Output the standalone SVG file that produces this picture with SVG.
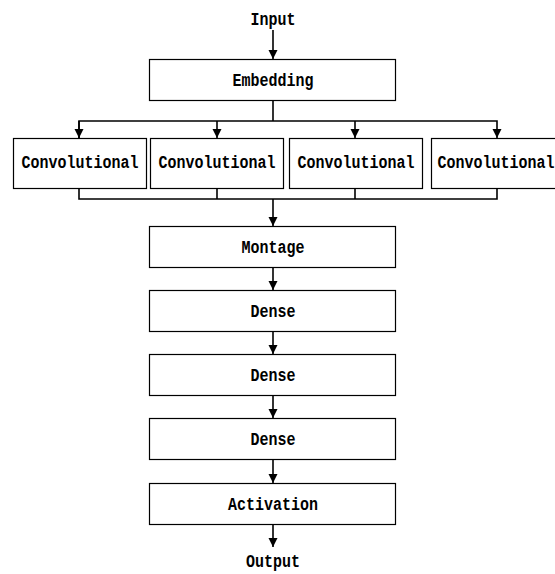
<svg xmlns="http://www.w3.org/2000/svg" width="555" height="574" viewBox="0 0 555 574">
  <style>
    .box { fill: #ffffff; stroke: #000000; stroke-width: 1.2; }
    .wire { fill: none; stroke: #000000; stroke-width: 1.6; }
    .lbl { font-family: "Liberation Mono", "DejaVu Sans Mono", monospace; font-size: 15px; font-weight: bold; fill: #000000; text-anchor: middle; }
  </style>
  <defs>
    <marker id="arrow" viewBox="0 0 10 10" refX="10" refY="5" markerWidth="9" markerHeight="10" markerUnits="userSpaceOnUse" orient="auto">
      <path d="M0,0 L10,5 L0,10 Z" fill="#000000"/>
    </marker>
  </defs>
  <rect width="555" height="574" fill="#ffffff"/>

  <g id="connectors">
    <line class="wire" x1="273" y1="30" x2="273" y2="59" marker-end="url(#arrow)"/>
    <polyline class="wire" points="273,101 273,121"/>
    <polyline class="wire" points="79,138 79,121 497,121 497,138" marker-end="url(#arrow)"/>
    <line class="wire" x1="79" y1="121" x2="79" y2="138" marker-end="url(#arrow)"/>
    <line class="wire" x1="217" y1="121" x2="217" y2="138" marker-end="url(#arrow)"/>
    <line class="wire" x1="355" y1="121" x2="355" y2="138" marker-end="url(#arrow)"/>
    <polyline class="wire" points="79,189 79,199 497,199 497,189"/>
    <line class="wire" x1="217" y1="189" x2="217" y2="199"/>
    <line class="wire" x1="355" y1="189" x2="355" y2="199"/>
    <line class="wire" x1="273" y1="199" x2="273" y2="226" marker-end="url(#arrow)"/>
    <line class="wire" x1="273" y1="267" x2="273" y2="290" marker-end="url(#arrow)"/>
    <line class="wire" x1="273" y1="332" x2="273" y2="354" marker-end="url(#arrow)"/>
    <line class="wire" x1="273" y1="396" x2="273" y2="418" marker-end="url(#arrow)"/>
    <line class="wire" x1="273" y1="460" x2="273" y2="483" marker-end="url(#arrow)"/>
    <line class="wire" x1="273" y1="524" x2="273" y2="547" marker-end="url(#arrow)"/>
  </g>

  <g id="input">
    <text class="lbl" transform="translate(273,25) scale(1,1.2)">Input</text>
  </g>
  <g id="embedding">
    <rect class="box" x="149.5" y="59.5" width="246" height="41"/>
    <text class="lbl" transform="translate(273,86) scale(1,1.2)">Embedding</text>
  </g>
  <g id="conv1">
    <rect class="box" x="13.5" y="138.5" width="133" height="50"/>
    <text class="lbl" transform="translate(80,168) scale(1,1.2)">Convolutional</text>
  </g>
  <g id="conv2">
    <rect class="box" x="150.5" y="138.5" width="133" height="50"/>
    <text class="lbl" transform="translate(217,168) scale(1,1.2)">Convolutional</text>
  </g>
  <g id="conv3">
    <rect class="box" x="289.5" y="138.5" width="133" height="50"/>
    <text class="lbl" transform="translate(356,168) scale(1,1.2)">Convolutional</text>
  </g>
  <g id="conv4">
    <rect class="box" x="431.5" y="138.5" width="133" height="50"/>
    <text class="lbl" transform="translate(496,168) scale(1,1.2)">Convolutional</text>
  </g>
  <g id="montage">
    <rect class="box" x="149.5" y="226.5" width="246" height="41"/>
    <text class="lbl" transform="translate(273,253) scale(1,1.2)">Montage</text>
  </g>
  <g id="dense1">
    <rect class="box" x="149.5" y="290.5" width="246" height="41"/>
    <text class="lbl" transform="translate(273,317) scale(1,1.2)">Dense</text>
  </g>
  <g id="dense2">
    <rect class="box" x="149.5" y="354.5" width="246" height="41"/>
    <text class="lbl" transform="translate(273,381) scale(1,1.2)">Dense</text>
  </g>
  <g id="dense3">
    <rect class="box" x="149.5" y="418.5" width="246" height="41"/>
    <text class="lbl" transform="translate(273,445) scale(1,1.2)">Dense</text>
  </g>
  <g id="activation">
    <rect class="box" x="149.5" y="483.5" width="246" height="41"/>
    <text class="lbl" transform="translate(273,510) scale(1,1.2)">Activation</text>
  </g>
  <g id="output">
    <text class="lbl" transform="translate(273,567) scale(1,1.2)">Output</text>
  </g>
</svg>
